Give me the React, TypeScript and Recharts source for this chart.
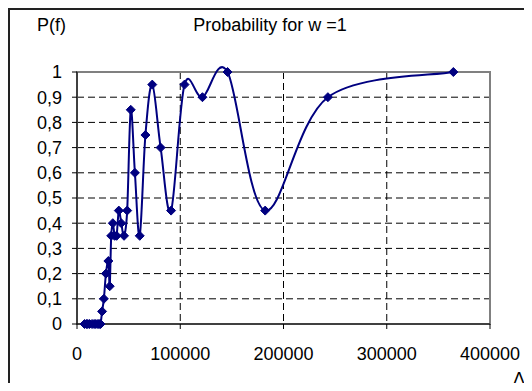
import React from 'react';
import { LineChart, Line, XAxis, YAxis, CartesianGrid, ReferenceArea } from 'recharts';

const freqs = [
  7290, 9113, 10414, 12150, 14580, 16568, 18225, 20250, 21441, 22781,
  24300, 26036, 28038, 30375, 31696, 33136, 34714, 36450, 38368, 40500,
  42882, 45563, 48600, 52071, 56077, 60750, 66273, 72900, 81000, 91125,
  104143, 121500, 145800, 182250, 243000, 364500,
];
const probs = [
  0, 0, 0, 0, 0, 0, 0, 0, 0, 0,
  0.05, 0.1, 0.2, 0.25, 0.15, 0.35, 0.4, 0.35, 0.35, 0.45,
  0.4, 0.35, 0.45, 0.85, 0.6, 0.35, 0.75, 0.95, 0.7, 0.45,
  0.95, 0.9, 1.0, 0.45, 0.9, 1.0,
];
const xTicks = [0, 100000, 200000, 300000, 400000];
const yTicks = [0, 0.1, 0.2, 0.3, 0.4, 0.5, 0.6, 0.7, 0.8, 0.9, 1];
const xGrid = [100000, 200000, 300000];
const yGrid = [0.1, 0.2, 0.3, 0.4, 0.5, 0.6, 0.7, 0.8, 0.9];
const title = 'Probability for w =1';
const yLabel = 'P(f)';
const xLabel = 'Δf';

const data = freqs.map((f, i) => ({ f, p: probs[i] }));

// Excel-like smoothed line (uniform Catmull-Rom as cubic Bezier)
function excelSmooth(context: any) {
  let pts: number[][] = [];
  return {
    areaStart() {},
    areaEnd() {},
    lineStart() { pts = []; },
    point(x: number, y: number) { pts.push([+x, +y]); },
    lineEnd() {
      const n = pts.length;
      if (!n) return;
      context.moveTo(pts[0][0], pts[0][1]);
      for (let i = 0; i < n - 1; i++) {
        const p0 = pts[i - 1] || pts[i];
        const p1 = pts[i];
        const p2 = pts[i + 1];
        const p3 = pts[i + 2] || pts[i + 1];
        context.bezierCurveTo(
          p1[0] + (p2[0] - p0[0]) / 6, p1[1] + (p2[1] - p0[1]) / 6,
          p2[0] - (p3[0] - p1[0]) / 6, p2[1] - (p3[1] - p1[1]) / 6,
          p2[0], p2[1]
        );
      }
    },
  };
}

const Diamond = (props: any) => {
  const { cx, cy, index } = props;
  if (cx == null || cy == null) return <g key={index} />;
  const r = 4.5;
  return (
    <path
      key={index}
      d={`M${cx},${cy - r}L${cx + r},${cy}L${cx},${cy + r}L${cx - r},${cy}Z`}
      fill="#000080"
      stroke="#000080"
      strokeWidth={1}
    />
  );
};

const fmt = (v: number) => String(v).replace('.', ',');
const font = '"Liberation Sans", Arial, sans-serif';

export default function App() {
  return (
    <div style={{ position: 'relative', width: 524, height: 375, fontFamily: font }}>
      <style>{`html,body{overflow:hidden}`}</style>
      <div style={{ position: 'absolute', left: 0, top: 0, width: 524, height: 383, borderLeft: '2px solid #222', borderTop: '2px solid #222', boxSizing: 'border-box' }} />
      <div style={{ position: 'absolute', left: 162, top: 8, width: 200, textAlign: 'center', fontSize: 18, lineHeight: '18px', color: '#000' }}>{title}</div>
      <div style={{ position: 'absolute', left: 29, top: 8, fontSize: 18, lineHeight: '18px', color: '#000' }}>{yLabel}</div>
      <div style={{ position: 'absolute', left: 505, top: 362, fontSize: 18, lineHeight: '18px', color: '#000', whiteSpace: 'nowrap' }}>{xLabel}</div>
      <div style={{ position: 'absolute', left: 0, top: 0 }}>
        <LineChart width={524} height={383} data={data} margin={{ top: 64, right: 42, left: 0, bottom: 0 }}>
          <CartesianGrid
            stroke="#000"
            strokeDasharray="7 4"
            horizontalValues={yGrid}
            verticalValues={xGrid}
          />
          <ReferenceArea x1={0} x2={400000} y1={0} y2={1} fill="none" stroke="#808080" strokeWidth={2} />
          <XAxis
            dataKey="f"
            type="number"
            domain={[0, 400000]}
            ticks={xTicks}
            interval={0}
            height={67}
            tickSize={5}
            tickMargin={18}
            axisLine={{ stroke: '#000' }}
            tickLine={{ stroke: '#000' }}
            tick={{ fill: '#000', fontSize: 18, fontFamily: font }}
          />
          <YAxis
            type="number"
            domain={[0, 1]}
            ticks={yTicks}
            interval={0}
            width={69}
            tickSize={5}
            tickMargin={10}
            tickFormatter={fmt}
            axisLine={{ stroke: '#000' }}
            tickLine={{ stroke: '#000' }}
            tick={{ fill: '#000', fontSize: 18, fontFamily: font }}
          />
          <Line
            dataKey="p"
            type={excelSmooth as any}
            stroke="#000080"
            strokeWidth={2}
            dot={Diamond}
            activeDot={false}
            isAnimationActive={false}
          />
        </LineChart>
      </div>
    </div>
  );
}
